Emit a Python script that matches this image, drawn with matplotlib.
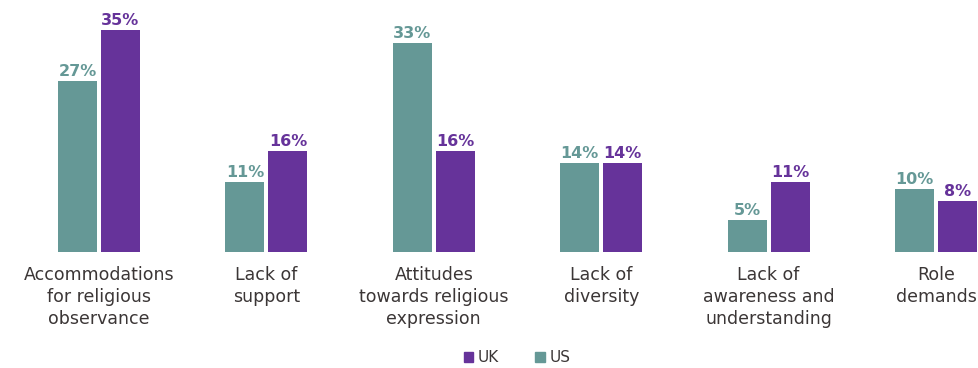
import matplotlib
matplotlib.use("Agg")
import matplotlib.pyplot as plt
from matplotlib.patches import Patch
import numpy as np

categories = ["Accommodations\nfor religious\nobservance", "Lack of\nsupport",
              "Attitudes\ntowards religious\nexpression", "Lack of\ndiversity",
              "Lack of\nawareness and\nunderstanding", "Role\ndemands"]
us_values = [27, 11, 33, 14, 5, 10]
uk_values = [35, 16, 16, 14, 11, 8]

us_color = "#659896"
uk_color = "#66339A"
text_color = "#3b3636"

plt.rcParams['font.family'] = ['DejaVu Sans']

fig = plt.figure(figsize=(9.79, 3.68), dpi=100)
ax = fig.add_axes([0, (368-252)/368, 1, 252/368])

x = np.arange(len(categories))
w = 39/167.4
off = 21.5/167.4
b1 = ax.bar(x - off, us_values, width=w, color=us_color)
b2 = ax.bar(x + off, uk_values, width=w, color=uk_color)

for rect, v in zip(b1, us_values):
    ax.text(rect.get_x() + rect.get_width()/2, v + 0.3, f"{v}%", ha='center', va='bottom',
            color=us_color, fontsize=11.5, fontweight='bold')
for rect, v in zip(b2, uk_values):
    ax.text(rect.get_x() + rect.get_width()/2, v + 0.3, f"{v}%", ha='center', va='bottom',
            color=uk_color, fontsize=11.5, fontweight='bold')

ax.set_xlim(-99/167.4, (979-99)/167.4)
ax.set_ylim(0, 252/6.34)
ax.set_xticks(x)
ax.set_xticklabels(categories, fontsize=12.5, color=text_color, linespacing=1.3)
ax.tick_params(axis='x', length=0, pad=10)
ax.set_yticks([])
for s in ax.spines.values():
    s.set_visible(False)

handles = [Patch(color=uk_color, label="UK"), Patch(color=us_color, label="US")]
fig.legend(handles=handles, loc='center', bbox_to_anchor=(517/979, 1 - 358/368), ncol=2,
           frameon=False, fontsize=11, handlelength=0.6, handleheight=0.6,
           handletextpad=0.3, columnspacing=2.4, labelcolor=text_color)

fig.savefig("out.png", dpi=100)
